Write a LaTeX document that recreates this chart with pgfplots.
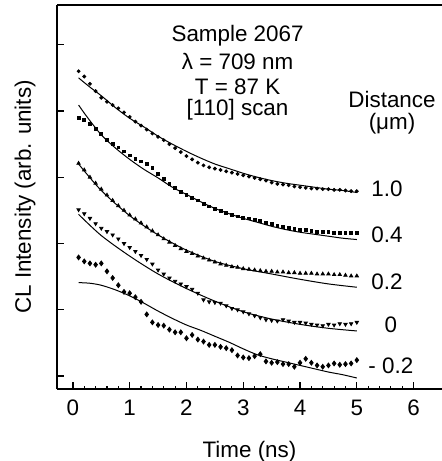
\documentclass[border=0pt]{standalone}
\usepackage{fontspec}
\setmainfont{Liberation Sans}
\usepackage{pgfplots}
\pgfplotsset{compat=1.18}

\newcommand{\lblfont}{\fontsize{11.2}{13}\selectfont}

\begin{document}
\begin{tikzpicture}
\begin{axis}[
  scale only axis,
  width=192.5pt, height=192pt,
  xmin=-0.28, xmax=6.5, ymin=-0.196, ymax=5.6,
  axis x line=box, axis y line=left,
  axis line style={-, line width=0.7pt},
  xtick={0,...,6}, minor x tick num=4, xtick pos=left,
  ytick={0,...,5}, yticklabels={},
  tick align=inside,
  major tick length=3.5pt, minor tick length=1.75pt,
  tick style={line width=0.6pt, black},
  /pgf/number format/assume math mode=true,
  tick label style={font=\lblfont},
  xticklabel style={yshift=-2pt},
  every axis x label/.style={at={(axis description cs:0.5,-0.162)},anchor=center,font=\lblfont},
  every axis y label/.style={at={(axis description cs:-0.083,0.5)},anchor=center,rotate=90,font=\lblfont},
  xlabel={Time (ns)},
  ylabel={CL Intensity (arb. units)},
  clip=false,
]
\coordinate (sw) at (rel axis cs:0,0);
\coordinate (ne) at (rel axis cs:1,1);

% 1.0 um
\addplot[only marks, mark=*, mark size=0.75pt, black] coordinates {
(0.1,4.60)(0.2,4.52)(0.3,4.41)(0.4,4.30)(0.5,4.20)(0.6,4.14)(0.7,4.09)(0.8,4.04)(0.9,3.98)(1.0,3.91)
(1.1,3.84)(1.2,3.78)(1.3,3.72)(1.4,3.66)(1.5,3.61)(1.6,3.56)(1.7,3.50)(1.8,3.44)(1.9,3.38)(2.0,3.32)
(2.1,3.27)(2.2,3.22)(2.3,3.18)(2.4,3.15)(2.5,3.13)(2.6,3.11)(2.7,3.09)(2.8,3.07)(2.9,3.05)(3.0,3.03)
(3.1,3.01)(3.2,2.99)(3.3,2.97)(3.4,2.95)(3.5,2.92)(3.6,2.90)(3.7,2.89)(3.8,2.88)(3.9,2.86)(4.0,2.85)
(4.1,2.84)(4.2,2.83)(4.3,2.83)(4.4,2.82)(4.5,2.82)(4.6,2.81)(4.7,2.81)(4.8,2.80)(4.9,2.79)(5.0,2.79)
};
\addplot[black, line width=0.5pt, smooth] coordinates {
(0.1,4.50)(0.3,4.36)(0.5,4.23)(0.75,4.05)(1.0,3.89)(1.25,3.76)(1.5,3.62)(1.75,3.50)(2.0,3.39)(2.25,3.29)
(2.5,3.20)(2.75,3.13)(3.0,3.06)(3.25,3.00)(3.5,2.95)(3.75,2.91)(4.0,2.88)(4.25,2.85)(4.5,2.82)(4.75,2.80)(5.0,2.77)
};

% 0.4 um
\addplot[only marks, mark=square*, mark size=0.7pt, black] coordinates {
(0.1,3.89)(0.2,3.86)(0.3,3.80)(0.4,3.73)(0.5,3.65)(0.6,3.56)(0.7,3.50)(0.8,3.45)(0.9,3.39)(1.0,3.33)
(1.1,3.28)(1.2,3.24)(1.3,3.20)(1.4,3.14)(1.5,3.05)(1.6,2.97)(1.7,2.90)(1.8,2.84)(1.9,2.78)(2.0,2.73)
(2.1,2.69)(2.2,2.65)(2.3,2.60)(2.4,2.56)(2.5,2.52)(2.6,2.49)(2.7,2.46)(2.8,2.43)(2.9,2.41)(3.0,2.39)
(3.1,2.38)(3.2,2.36)(3.3,2.34)(3.4,2.31)(3.5,2.29)(3.6,2.27)(3.7,2.25)(3.8,2.24)(3.9,2.22)(4.0,2.21)
(4.1,2.20)(4.2,2.19)(4.3,2.18)(4.4,2.17)(4.5,2.17)(4.6,2.16)(4.7,2.16)(4.8,2.16)(4.9,2.16)(5.0,2.16)
};
\addplot[black, line width=0.5pt, smooth] coordinates {
(0.1,4.09)(0.25,3.91)(0.5,3.64)(0.75,3.44)(1.0,3.27)(1.25,3.12)(1.5,2.99)(1.75,2.85)(2.0,2.74)(2.25,2.63)
(2.5,2.53)(2.75,2.45)(3.0,2.38)(3.25,2.32)(3.5,2.26)(3.75,2.21)(4.0,2.17)(4.25,2.14)(4.5,2.11)(4.75,2.08)(5.0,2.06)
};

% 0.2 um
\addplot[only marks, mark=triangle*, mark size=0.95pt, black] coordinates {
(0.1,3.21)(0.2,3.11)(0.3,3.00)(0.4,2.91)(0.5,2.82)(0.6,2.73)(0.7,2.65)(0.8,2.57)(0.9,2.50)(1.0,2.43)
(1.1,2.37)(1.2,2.31)(1.3,2.25)(1.4,2.19)(1.5,2.13)(1.6,2.07)(1.7,2.02)(1.8,1.97)(1.9,1.92)(2.0,1.88)
(2.1,1.85)(2.2,1.81)(2.3,1.78)(2.4,1.75)(2.5,1.72)(2.6,1.69)(2.7,1.67)(2.8,1.65)(2.9,1.64)(3.0,1.62)
(3.1,1.61)(3.2,1.60)(3.3,1.59)(3.4,1.58)(3.5,1.58)(3.6,1.57)(3.7,1.57)(3.8,1.56)(3.9,1.56)(4.0,1.55)
(4.1,1.55)(4.2,1.55)(4.3,1.54)(4.4,1.54)(4.5,1.54)(4.6,1.53)(4.7,1.53)(4.8,1.52)(4.9,1.51)(5.0,1.51)
};
\addplot[black, line width=0.5pt, smooth] coordinates {
(0.1,3.20)(0.5,2.80)(1.0,2.42)(1.5,2.13)(2.0,1.90)(2.5,1.73)(3.0,1.62)(3.5,1.54)(4.0,1.46)(4.5,1.39)(5.0,1.34)
};

% 0 um
\addplot[only marks, mark=triangle*, mark size=0.95pt, mark options={rotate=180}, black] coordinates {
(0.1,2.51)(0.2,2.45)(0.3,2.38)(0.4,2.30)(0.5,2.23)(0.6,2.18)(0.7,2.13)(0.8,2.07)(0.9,2.00)(1.0,1.94)
(1.1,1.88)(1.2,1.82)(1.3,1.76)(1.4,1.69)(1.5,1.60)(1.6,1.54)(1.7,1.48)(1.8,1.43)(1.9,1.39)(2.0,1.35)
(2.1,1.31)(2.2,1.25)(2.3,1.15)(2.4,1.12)(2.5,1.11)(2.6,1.10)(2.7,1.06)(2.8,1.02)(2.9,1.00)(3.0,0.97)
(3.1,0.94)(3.2,0.91)(3.3,0.88)(3.4,0.85)(3.5,0.84)(3.6,0.83)(3.7,0.85)(3.8,0.83)(3.9,0.81)(4.0,0.81)
(4.1,0.80)(4.2,0.78)(4.3,0.77)(4.4,0.76)(4.5,0.78)(4.6,0.77)(4.7,0.79)(4.8,0.78)(4.9,0.79)(5.0,0.81)
};
\addplot[black, line width=0.5pt, smooth] coordinates {
(0.1,2.44)(0.5,2.12)(1.0,1.81)(1.5,1.54)(2.0,1.32)(2.5,1.13)(3.0,0.97)(3.5,0.86)(4.0,0.78)(4.5,0.72)(5.0,0.68)
};

% -0.2 um
\addplot[only marks, mark=diamond*, mark size=1.2pt, black] coordinates {
(0.1,1.79)(0.2,1.73)(0.3,1.70)(0.4,1.68)(0.5,1.70)(0.6,1.58)(0.7,1.48)(0.8,1.37)(0.9,1.27)(1.0,1.25)
(1.1,1.19)(1.2,1.12)(1.3,0.93)(1.4,0.81)(1.5,0.77)(1.6,0.76)(1.7,0.70)(1.8,0.66)(1.9,0.66)(2.0,0.57)
(2.1,0.62)(2.2,0.55)(2.3,0.52)(2.4,0.47)(2.5,0.47)(2.6,0.44)(2.7,0.42)(2.8,0.39)(2.9,0.31)(3.0,0.28)
(3.1,0.27)(3.2,0.30)(3.3,0.33)(3.4,0.22)(3.5,0.20)(3.6,0.21)(3.7,0.18)(3.8,0.18)(3.9,0.14)(4.0,0.20)
(4.1,0.26)(4.2,0.20)(4.3,0.16)(4.4,0.14)(4.5,0.16)(4.6,0.19)(4.7,0.17)(4.8,0.18)(4.9,0.19)(5.0,0.24)
};
\addplot[black, line width=0.5pt, smooth] coordinates {
(0.1,1.41)(0.3,1.40)(0.5,1.37)(0.75,1.30)(1.0,1.21)(1.25,1.10)(1.5,0.98)(1.75,0.87)(2.0,0.77)(2.25,0.69)
(2.5,0.60)(2.75,0.51)(3.0,0.41)(3.25,0.32)(3.5,0.26)(3.75,0.21)(4.0,0.16)(4.25,0.11)(4.5,0.06)(4.75,0.02)(5.0,-0.03)
};

% annotations
\node[font=\lblfont] at (axis cs:2.9,5.14) {Sample 2067};
\node[font=\lblfont] at (axis cs:2.9,4.74) {λ = 709 nm};
\node[font=\lblfont] at (axis cs:2.9,4.37) {T = 87 K};
\node[font=\lblfont] at (axis cs:2.9,4.02) {[110] scan};
\node[font=\lblfont] at (axis cs:5.62,4.17) {Distance};
\node[font=\lblfont] at (axis cs:5.62,3.81) {(μm)};
\node[font=\lblfont] at (axis cs:5.53,2.82) {1.0};
\node[font=\lblfont] at (axis cs:5.53,2.13) {0.4};
\node[font=\lblfont] at (axis cs:5.53,1.42) {0.2};
\node[font=\lblfont] at (axis cs:5.60,0.77) {0};
\node[font=\lblfont] at (axis cs:5.60,0.15) {- 0.2};
\end{axis}
\pgfresetboundingbox
\path ([xshift=-28.5pt,yshift=-36pt]sw) rectangle ([yshift=2.5pt]ne);
\end{tikzpicture}
\end{document}
